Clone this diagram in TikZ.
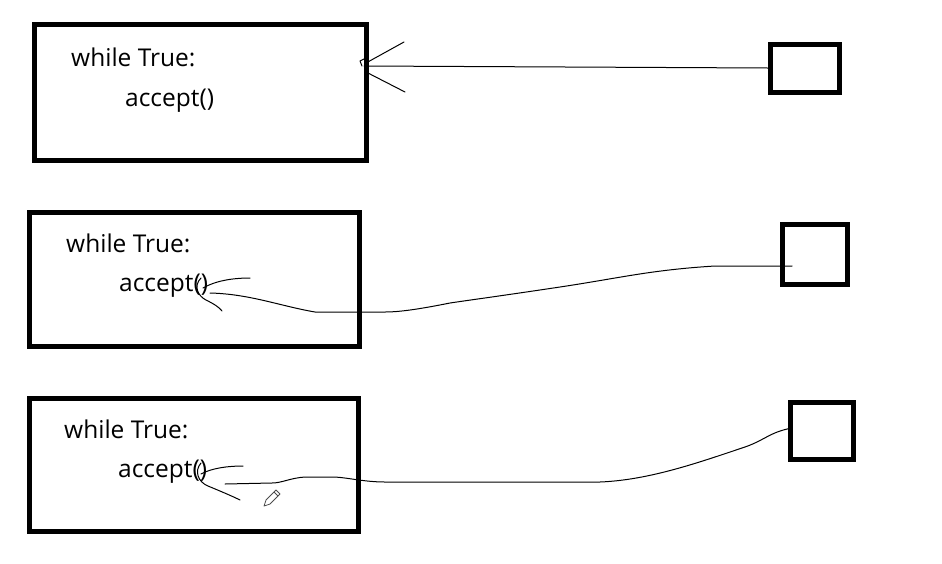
\documentclass[tikz,border=0pt]{standalone}
\usepackage{fontspec}
\setmainfont{Open Sans}
\begin{document}
\begin{tikzpicture}[x=1pt,y=-1pt,
  bigbox/.style={draw=black,line width=5pt},
  smallbox/.style={draw=black,line width=5pt},
  code/.style={anchor=base west,inner sep=0pt,font=\fontsize{24.5}{28}\selectfont},
  stroke/.style={draw=black,line width=1pt,line cap=round,line join=round}]
\useasboundingbox (0,0) rectangle (942,563);
% big boxes
\draw[bigbox] (34,24) rectangle (366,160);
\draw[bigbox] (29,212) rectangle (359,346);
\draw[bigbox] (29,398) rectangle (358,531);
% small boxes
\draw[smallbox] (770,44) rectangle (839,92);
\draw[smallbox] (782,224) rectangle (847,284);
\draw[smallbox] (790,402) rectangle (853,459);
% texts
\node[code] (w1) at (71,66) {while True:};
\node[code] (a1) at (125,106) {accept()};
\node[code] (w2) at (66,252) {while True:};
\node[code] (a2) at (119,291) {accept()};
\node[code] (w3) at (64,438) {while True:};
\node[code] (a3) at (118,477) {accept()};
% connector 1
\coordinate (s1) at (768,68);
\coordinate (e1) at (364,66);
\draw[stroke] (s1) -- (e1);
\draw[stroke] (366,63) -- (404,42);
\draw[stroke] (366,72) -- (405,92);
\draw[stroke] (366,58) -- (360,61) -- (362,66);
% connector 2
\coordinate (s2) at (792,266);
\coordinate (e2) at (210,293);
\draw[stroke] (s2) -- (715,266) .. controls (650,270) and (620,278) .. (560,287)
  .. controls (500,296) and (470,300) .. (450,303)
  .. controls (420,309) and (400,312) .. (385,312) -- (315,312)
  .. controls (280,306) and (250,294) .. (e2);
\draw[stroke] (203,288) .. controls (215,281) and (232,278) .. (250,278);
\draw[stroke] (201,278) .. controls (193,286) and (198,296) .. (206,300) .. controls (214,304) and (219,307) .. (222,311);
% connector 3
\coordinate (s3) at (792,428);
\coordinate (e3) at (225,484);
\draw[stroke] (s3) .. controls (770,432) and (765,440) .. (745,447)
  .. controls (700,462) and (650,480) .. (600,482) -- (385,482)
  .. controls (365,482) and (350,478) .. (335,477) -- (305,477)
  .. controls (290,478) and (282,483) .. (272,483) -- (e3);
\draw[stroke] (201,474) .. controls (212,468) and (228,466) .. (243,466);
\draw[stroke] (201,463) .. controls (194,471) and (198,482) .. (208,486) .. controls (220,491) and (232,496) .. (240,500);
% pencil cursor
\draw[black!70,line width=0.8pt,line join=round] (264,506) -- (266,500) -- (276,490) -- (280,494) -- (270,504) -- cycle;
\draw[black!70,line width=0.8pt] (274,492) -- (278,496);
\end{tikzpicture}
\end{document}
